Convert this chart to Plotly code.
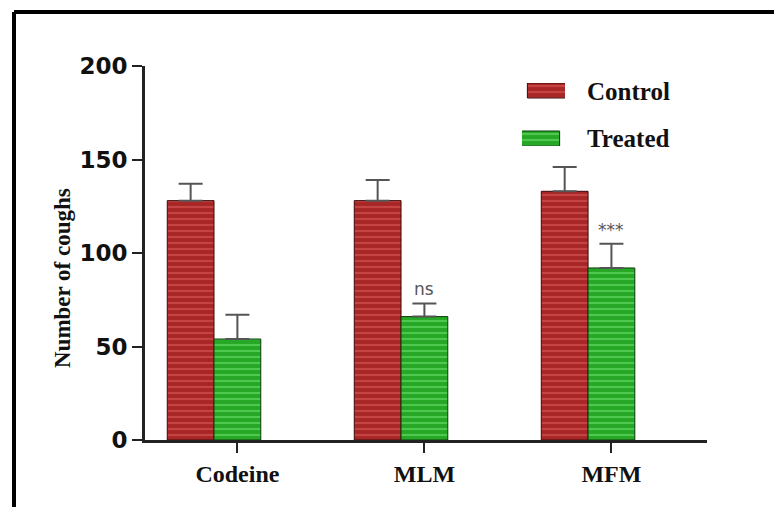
import plotly.graph_objects as go

# Cough counts per group (mean with upper SEM)
categories = ["Codeine", "MLM", "MFM"]
control = [128, 128, 133]
control_err = [9, 11, 13]
treated = [54, 66, 92]
treated_err = [13, 7, 13]
significance = ["", "ns", "***"]
y_ticks = [0, 50, 100, 150, 200]

x_pos = list(range(len(categories)))
bar_w = 0.25

RED = "#a82626"
RED_LINE = "#e06262"
GREEN = "#26a826"
GREEN_LINE = "#78e878"

serif = "Liberation Serif"

# Plot-area size in pixels, used to place paper-referenced decorations
PLOT_L, PLOT_T, PLOT_W, PLOT_H = 145, 66, 562, 374
FIG_W, FIG_H = 774, 507


def px_x(px):
    return (px - PLOT_L) / PLOT_W


def px_y(px):
    return (PLOT_T + PLOT_H - px) / PLOT_H


def brick(base, line, edge):
    return dict(color=base, line=dict(color=edge, width=1),
                pattern=dict(shape="-", fgcolor=line, bgcolor=base,
                             size=6, solidity=0.35, fillmode="overlay"))


fig = go.Figure()

fig.add_trace(go.Bar(
    x=x_pos, y=control, name="Control",
    marker=brick(RED, RED_LINE, "#3a0808"),
    error_y=dict(type="data", array=control_err, arrayminus=[0] * 3,
                 symmetric=False, color="#555555", thickness=2, width=12),
    showlegend=False,
))
fig.add_trace(go.Bar(
    x=x_pos, y=treated, name="Treated",
    marker=brick(GREEN, GREEN_LINE, "#0a3a0a"),
    error_y=dict(type="data", array=treated_err, arrayminus=[0] * 3,
                 symmetric=False, color="#555555", thickness=2, width=12),
    showlegend=False,
))

# Significance marks above treated bars
for i, s in enumerate(significance):
    if s:
        fig.add_annotation(
            x=x_pos[i] + bar_w / 2, y=treated[i] + treated_err[i],
            text=s, showarrow=False, yanchor="bottom", yshift=2,
            font=dict(family="DejaVu Sans", size=17, color="#555555"),
        )

# Legend keys drawn as small patterned bars on an overlay axis
legend_names = ["Treated", "Control"]
legend_fill = [(GREEN, GREEN_LINE, "#0a3a0a"), (RED, RED_LINE, "#3a0808")]
for k, name in enumerate(legend_names):
    base, line, edge = legend_fill[k]
    fig.add_trace(go.Bar(
        x=[0.5], y=[1], base=[k * 3.2], width=[1],
        marker=brick(base, line, edge),
        xaxis="x2", yaxis="y2", showlegend=False, hoverinfo="skip",
    ))
for name, yy in [("Control", px_y(92)), ("Treated", px_y(138))]:
    fig.add_annotation(
        xref="paper", yref="paper", x=px_x(585), y=yy, text=name,
        showarrow=False, xanchor="left", yanchor="middle",
        font=dict(family=serif, size=25, color="#111111", weight="bold"),
    )

# Y-axis title
fig.add_annotation(
    xref="paper", yref="paper", x=px_x(62), y=px_y(278),
    text="Number of coughs", textangle=-90, showarrow=False,
    xanchor="center", yanchor="middle",
    font=dict(family=serif, size=23, color="#111111", weight="bold"),
)

# Outer frame: top and left edges, running to the page edges
fig.add_shape(type="line", xref="paper", yref="paper",
              x0=px_x(14), x1=px_x(FIG_W), y0=px_y(12), y1=px_y(12),
              line=dict(color="black", width=4))
fig.add_shape(type="line", xref="paper", yref="paper",
              x0=px_x(14), x1=px_x(14), y0=px_y(FIG_H), y1=px_y(12),
              line=dict(color="black", width=4))

fig.update_layout(
    width=FIG_W, height=FIG_H,
    margin=dict(l=PLOT_L, r=FIG_W - PLOT_L - PLOT_W, t=PLOT_T,
                b=FIG_H - PLOT_T - PLOT_H),
    paper_bgcolor="white", plot_bgcolor="white",
    barmode="group", bargap=0.5, bargroupgap=0,
    xaxis=dict(
        range=[-0.369, 2.636],
        tickvals=[p + bar_w / 2 for p in x_pos], ticktext=categories,
        ticks="outside", ticklen=10, tickwidth=2, tickcolor="#222222",
        showline=True, linecolor="#222222", linewidth=3,
        showgrid=False, zeroline=False,
        tickfont=dict(family=serif, size=24, color="#111111", weight="bold"),
    ),
    yaxis=dict(
        range=[0, 200], tickvals=y_ticks,
        ticks="outside", ticklen=10, tickwidth=2, tickcolor="#222222",
        showline=True, linecolor="#222222", linewidth=3,
        showgrid=False, zeroline=False,
        tickfont=dict(family="DejaVu Sans", size=23, color="#111111", weight="bold"),
    ),
    xaxis2=dict(domain=[px_x(522), px_x(565)], range=[0, 1], visible=False,
                anchor="y2", fixedrange=True),
    yaxis2=dict(domain=[px_y(146), px_y(83)], range=[0, 4.2], visible=False,
                anchor="x2", fixedrange=True),
)

fig.write_html("out.html")
